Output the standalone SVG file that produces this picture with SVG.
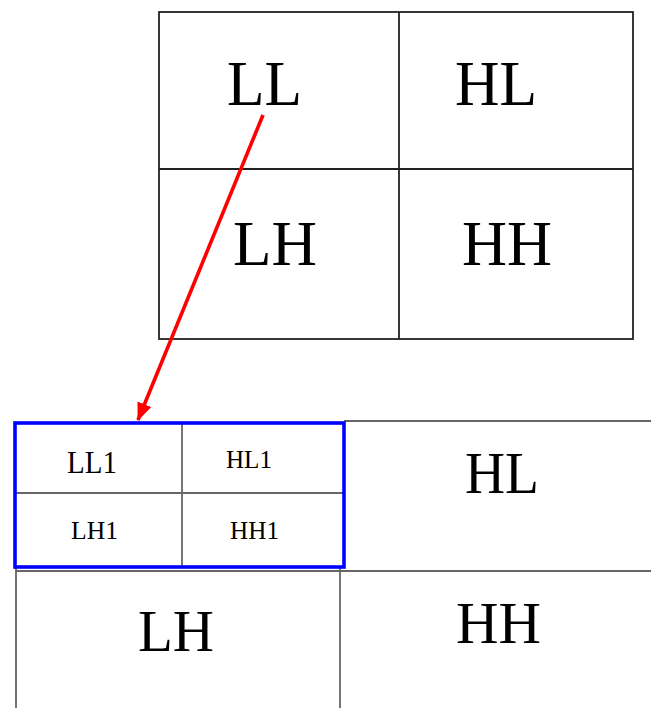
<svg xmlns="http://www.w3.org/2000/svg" width="651" height="708" viewBox="0 0 651 708">
<defs>
<style>
.t{font-family:"Liberation Serif","Times New Roman",serif;fill:#000;text-anchor:middle}
.dk{stroke:#222;stroke-width:1.8;fill:none}
.gr{stroke:#666;stroke-width:1.8;fill:none}
</style>
<marker id="ah" markerUnits="userSpaceOnUse" markerWidth="18" markerHeight="18" viewBox="0 0 18 18" refX="17" refY="9" orient="auto">
<path d="M0,1.5 L18,9 L0,16.5 Z" fill="#ff0000"/>
</marker>
</defs>
<rect width="651" height="708" fill="#fff"/>
<g id="top-grid">
<rect class="dk" x="159" y="12" width="474" height="327" stroke-width="2.2"/>
<line class="dk" x1="399" y1="12" x2="399" y2="339" stroke="#444"/>
<line class="dk" x1="159" y1="169" x2="633" y2="169"/>
<text class="t" x="264.5" y="105" font-size="64" textLength="75" lengthAdjust="spacingAndGlyphs">LL</text>
<text class="t" x="496" y="105" font-size="64" textLength="82" lengthAdjust="spacingAndGlyphs">HL</text>
<text class="t" x="275" y="265" font-size="64" textLength="84" lengthAdjust="spacingAndGlyphs">LH</text>
<text class="t" x="507" y="265" font-size="64" textLength="90" lengthAdjust="spacingAndGlyphs">HH</text>
</g>
<g id="bottom-grid">
<line class="gr" x1="344" y1="421" x2="651" y2="421"/>
<line class="gr" x1="16" y1="571" x2="651" y2="571"/>
<line class="gr" x1="16" y1="567" x2="16" y2="708"/>
<line class="gr" x1="340" y1="567" x2="340" y2="708"/>
<text class="t" x="502" y="493" font-size="60" textLength="74" lengthAdjust="spacingAndGlyphs">HL</text>
<text class="t" x="498.5" y="643" font-size="60" textLength="85" lengthAdjust="spacingAndGlyphs">HH</text>
<text class="t" x="176" y="651" font-size="60" textLength="76" lengthAdjust="spacingAndGlyphs">LH</text>
</g>
<g id="sub-grid">
<line class="gr" x1="182" y1="422" x2="182" y2="567"/>
<line class="gr" x1="14" y1="493" x2="344" y2="493"/>
<rect x="15" y="423" width="329" height="144" fill="none" stroke="#0000ff" stroke-width="3.6"/>
<text class="t" x="92" y="473" font-size="31" textLength="50" lengthAdjust="spacingAndGlyphs">LL1</text>
<text class="t" x="249" y="468" font-size="26" textLength="46" lengthAdjust="spacingAndGlyphs">HL1</text>
<text class="t" x="94.5" y="539" font-size="26" textLength="47" lengthAdjust="spacingAndGlyphs">LH1</text>
<text class="t" x="254.5" y="539" font-size="26" textLength="49" lengthAdjust="spacingAndGlyphs">HH1</text>
</g>
<g id="connectors">
<line x1="263" y1="115" x2="138" y2="420" stroke="#ff0000" stroke-width="3.6" marker-end="url(#ah)"/>
</g>
</svg>
